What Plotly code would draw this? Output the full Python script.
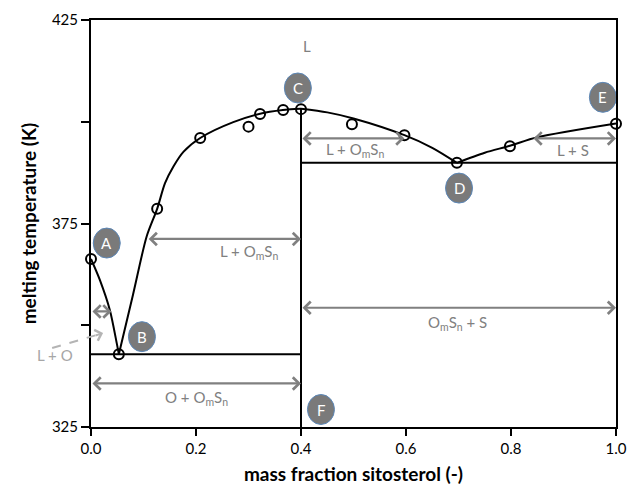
import plotly.graph_objects as go

# ---- data ----
# experimental melting points (mass fraction sitosterol, K)
exp_x = [0.0, 0.053, 0.126, 0.208, 0.300, 0.322, 0.366, 0.400, 0.497, 0.597, 0.697, 0.798, 1.0]
exp_T = [366.3, 342.9, 378.6, 396.0, 398.8, 401.9, 402.9, 403.1, 399.4, 396.7, 389.9, 394.0, 399.5]

# liquidus branches
liq_a_x = [0.0, 0.017, 0.036, 0.049, 0.053]
liq_a_T = [366.3, 361.1, 353.7, 345.6, 342.9]
liq_b_x = [0.053, 0.08, 0.106, 0.126, 0.141, 0.157, 0.176, 0.208, 0.271, 0.33, 0.38, 0.40]
liq_b_T = [342.9, 357.5, 371.8, 378.6, 384.9, 389.0, 392.6, 396.0, 399.9, 402.2, 403.1, 403.2]
liq_c_x = [0.40, 0.45, 0.50, 0.597, 0.65, 0.697]
liq_c_T = [403.2, 402.3, 400.8, 396.7, 393.6, 389.9]
liq_d_x = [0.697, 0.75, 0.798, 0.85, 1.0]
liq_d_T = [389.9, 392.4, 394.1, 396.2, 399.6]

# solidus / compound lines
eut1_x = [0.0, 0.4]
eut1_T = [342.9, 342.9]
eut2_x = [0.4, 1.0]
eut2_T = [389.9, 389.9]
comp_x = [0.4, 0.4]
comp_T = [325, 403.2]

# region arrows: (x_start, x_end, T)
arrows = [
    (0.107, 0.4, 371.2),
    (0.0, 0.039, 353.4),
    (0.0, 0.4, 335.7),
    (0.4, 0.597, 395.9),
    (0.84, 1.0, 395.9),
    (0.4, 1.0, 354.3),
]
# region labels: (x, T, text)
region_labels = [
    (0.411, 418.6, "L"),
    (0.301, 368.0, "L + O<sub>m</sub>S<sub>n</sub>"),
    (0.201, 332.2, "O + O<sub>m</sub>S<sub>n</sub>"),
    (0.503, 393.0, "L + O<sub>m</sub>S<sub>n</sub>"),
    (0.918, 393.0, "L + S"),
    (0.699, 350.5, "O<sub>m</sub>S<sub>n</sub> + S"),
]
# label outside the frame, in plot-area fractions
lo_label = (-0.069, 0.176, "L + O")

# point labels
pt_names = ["A", "B", "C", "D", "E", "F"]
pt_x = [0.030, 0.097, 0.394, 0.701, 0.975, 0.438]
pt_T = [370.2, 347.2, 408.3, 383.7, 406.0, 329.3]

# axis ticks
y_tickvals = [325, 350, 375, 400, 425]
y_ticktext = ["325", "", "375", "", "425"]
x_tickvals = [0.0, 0.2, 0.4, 0.6, 0.8, 1.0]
x_ticktext = ["0.0", "0.2", "0.4", "0.6", "0.8", "1.0"]

FONT = "Lato"
GRAY = "#808080"

fig = go.Figure()

line_style = dict(color="black", width=2)
for xs, ts in [(liq_a_x, liq_a_T), (liq_b_x, liq_b_T), (liq_c_x, liq_c_T), (liq_d_x, liq_d_T)]:
    fig.add_trace(go.Scatter(x=xs, y=ts, mode="lines", line=dict(color="black", width=2, shape="spline", smoothing=0.8),
                             hoverinfo="skip", showlegend=False))
for xs, ts in [(eut1_x, eut1_T), (eut2_x, eut2_T), (comp_x, comp_T)]:
    fig.add_trace(go.Scatter(x=xs, y=ts, mode="lines", line=line_style, hoverinfo="skip", showlegend=False))

fig.add_trace(go.Scatter(x=exp_x, y=exp_T, mode="markers",
                         marker=dict(symbol="circle-open", size=10, color="black", line=dict(width=2)),
                         cliponaxis=False, showlegend=False))

annotations = []
for x0, x1, t in arrows:
    annotations.append(dict(x=x1, y=t, ax=x0, ay=t, xref="x", yref="y", axref="x", ayref="y",
                            text="", showarrow=True, arrowhead=4, arrowside="end+start",
                            arrowsize=1.1, arrowwidth=2.2, arrowcolor=GRAY, standoff=0, startstandoff=0))
for x, t, txt in region_labels:
    annotations.append(dict(x=x, y=t, xref="x", yref="y", text=txt, showarrow=False,
                            font=dict(family=FONT, size=15, color=GRAY)))
annotations.append(dict(x=lo_label[0], y=lo_label[1], xref="paper", yref="paper", text=lo_label[2],
                        xanchor="center", yanchor="middle",
                        showarrow=False, font=dict(family=FONT, size=15, color="#a6a6a6")))
# dashed pointer for L + O
shapes = [dict(type="line", xref="paper", yref="paper", x0=-0.074, y0=0.194, x1=0.017, y1=0.2285,
               line=dict(color="#b4b4b4", width=2, dash="dash"))]
annotations.append(dict(x=0.023, y=348.1, xref="x", yref="y", ax=-9, ay=3, text="", showarrow=True,
                        arrowhead=4, arrowsize=1.1, arrowwidth=2, arrowcolor="#b4b4b4", standoff=0))

for name, x, t in zip(pt_names, pt_x, pt_T):
    shapes.append(dict(type="circle", xref="x", yref="y", xsizemode="pixel", ysizemode="pixel",
                       xanchor=x, yanchor=t, x0=-13.5, x1=13.5, y0=-15, y1=15,
                       fillcolor="#7a7a7a", line=dict(color="#5b87b8", width=1), layer="above"))
    annotations.append(dict(x=x, y=t, xref="x", yref="y", text=name, showarrow=False,
                            font=dict(family=FONT, size=15, color="white")))

fig.update_layout(
    width=629, height=491,
    margin=dict(l=91, r=13, t=20, b=64),
    plot_bgcolor="white", paper_bgcolor="white",
    font=dict(family=FONT, size=14, color="black"),
    annotations=annotations, shapes=shapes,
    xaxis=dict(range=[0, 1], tickvals=x_tickvals, ticktext=x_ticktext, ticks="outside", ticklen=7,
               tickwidth=2, tickcolor="black", showline=True, linewidth=2, linecolor="black", mirror=True,
               showgrid=False, zeroline=False, tickfont=dict(family=FONT, size=15), automargin=False,
               title=dict(text="<b>mass fraction sitosterol (-)</b>", font=dict(family=FONT, size=19), standoff=12)),
    yaxis=dict(range=[325, 425], tickvals=y_tickvals, ticktext=y_ticktext, ticks="outside", ticklen=8,
               tickwidth=2, tickcolor="black", showline=True, linewidth=2, linecolor="black", mirror=True,
               showgrid=False, zeroline=False, tickfont=dict(family=FONT, size=15), automargin=False,
               title=dict(text="<b>melting temperature (K)</b>", font=dict(family=FONT, size=19), standoff=10)),
)

fig.write_html("out.html")
